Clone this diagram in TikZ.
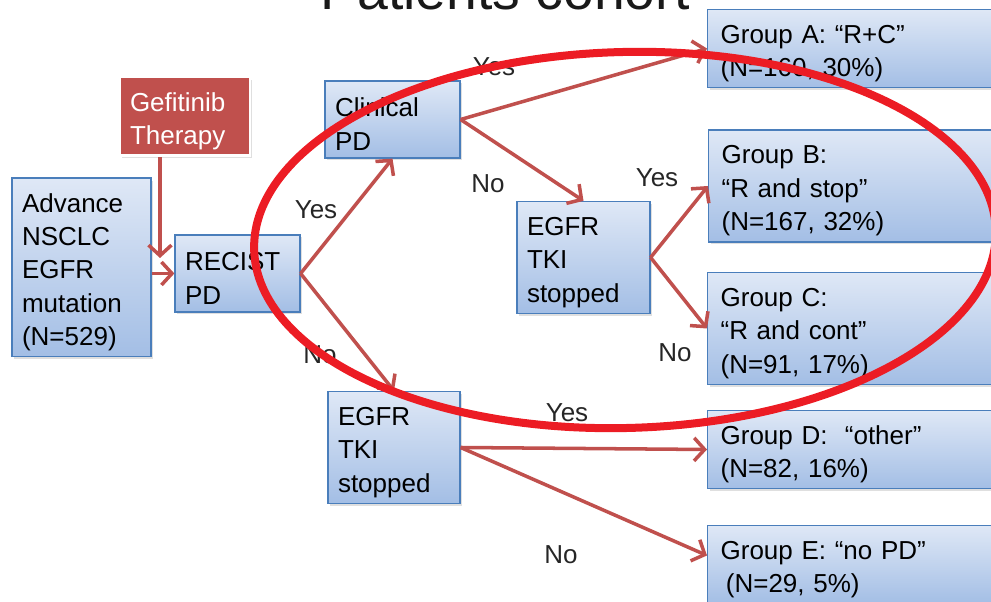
\documentclass[tikz,border=0pt]{standalone}
\usepackage{fontspec}
\setmainfont{Liberation Sans}
\usetikzlibrary{positioning,arrows.meta,shadows}
\definecolor{boxtop}{HTML}{DFE8F6}
\definecolor{boxbot}{HTML}{A3BEE5}
\definecolor{boxline}{HTML}{4A7EBB}
\definecolor{arrowred}{HTML}{C0504D}
\definecolor{ringred}{HTML}{EC1C24}
\newcommand{\boxfont}{\fontsize{14.8}{19}\selectfont}
\newcommand{\toproom}{\rule{0pt}{16pt}}
\tikzset{
  flowarrow/.style={-{Straight Barb[length=2.1mm, width=4.6mm]}, line width=2pt, draw=arrowred},
  stepbox/.style={draw=boxline, line width=0.7pt, top color=boxtop, bottom color=boxbot, align=left, inner xsep=0.2cm, font=\boxfont, execute at begin node=\toproom, drop shadow={opacity=0.25, shadow xshift=0.04cm, shadow yshift=-0.05cm}},
  groupbox/.style={stepbox, anchor=west, text width=5.5cm, inner xsep=0.26cm},
  therapybox/.style={draw=white, line width=1.5pt, fill=arrowred, text=white, align=left, inner xsep=0.2cm, font=\boxfont, execute at begin node=\toproom, drop shadow={opacity=0.25, shadow xshift=0.04cm, shadow yshift=-0.05cm}},
  answer/.style={font=\boxfont, text=black!85},
  ring/.style={draw=ringred, line width=1.6mm}
}

\begin{document}
\begin{tikzpicture}[>=Latex]
  \useasboundingbox (0,0) rectangle (19.82,12.04);
  \clip (0,0) rectangle (19.82,12.04);

  % title, cut off at the top
  \node[anchor=base west, font=\fontsize{31.5}{36}\selectfont, text=black!90, inner sep=0] (title) at (6.4,11.84) {Patients cohort};

  % boxes
  \node[stepbox, text width=2.38cm, minimum height=3.54cm] (adv) at (1.63,6.69) {Advance\\NSCLC\\EGFR\\mutation\\(N=529)};
  \node[therapybox, text width=2.2cm, minimum height=1.46cm] (gef) at (3.70,9.71) {Gefitinib\\Therapy};
  \node[stepbox, text width=2.1cm, minimum height=1.54cm] (recist) at (4.75,6.57) {RECIST\\PD};
  \node[stepbox, text width=2.3cm, minimum height=1.54cm] (clin) at (7.85,9.65) {Clinical\\PD};
  \node[stepbox, text width=2.26cm, minimum height=2.22cm] (tkiA) at (11.67,6.89) {EGFR\\TKI\\stopped};
  \node[stepbox, text width=2.24cm, minimum height=2.22cm] (tkiB) at (7.88,3.09) {EGFR\\TKI\\stopped};

  \node[groupbox, minimum height=1.54cm] (grpA) at (14.14,11.07) {Group A: “R+C”\\(N=160, 30\%)};
  \node[groupbox, minimum height=2.24cm] (grpB) at (14.16,8.32) {Group B:\\“R and stop”\\(N=167, 32\%)};
  \node[groupbox, minimum height=2.22cm] (grpC) at (14.14,5.47) {Group C:\\“R and cont”\\(N=91, 17\%)};
  \node[groupbox, minimum height=1.54cm] (grpD) at (14.14,3.05) {Group D:\ \ “other”\\(N=82, 16\%)};
  \node[groupbox, minimum height=1.54cm] (grpE) at (14.14,0.75) {Group E: “no PD”\\\hspace{3pt}(N=29, 5\%)};

  % connectors
  \coordinate (gefend) at (3.2,6.88);
  \draw[flowarrow] (gef.south -| gefend) -- (gefend);
  \draw[flowarrow] (adv.east |- recist.west) -- (recist.west);
  \draw[flowarrow] (recist.east) -- (clin.south);
  \draw[flowarrow] (recist.east) -- (tkiB.north);
  \draw[flowarrow] (clin.east) -- (grpA.west);
  \draw[flowarrow] (clin.east) -- (tkiA.north);
  \draw[flowarrow] (tkiA.east) -- (grpB.west);
  \draw[flowarrow] (tkiA.east) -- (grpC.west);
  \draw[flowarrow] (tkiB.east) -- (grpD.west);
  \draw[flowarrow] (tkiB.east) -- ([yshift=0.18cm]grpE.west);

  % yes / no
  \node[answer] (y1) at (9.88,10.70) {Yes};
  \node[answer] (n1) at (9.76,8.36) {No};
  \node[answer] (y2) at (6.32,7.84) {Yes};
  \node[answer] (n2) at (6.40,4.94) {No};
  \node[answer] (y3) at (13.14,8.48) {Yes};
  \node[answer] (n3) at (13.50,4.98) {No};
  \node[answer] (y4) at (11.34,3.78) {Yes};
  \node[answer] (n4) at (11.22,0.94) {No};

  % highlight
  \draw[ring, rotate around={1.5:(12.5,7.24)}] (12.5,7.24) ellipse [x radius=7.42, y radius=3.76];
\end{tikzpicture}
\end{document}
